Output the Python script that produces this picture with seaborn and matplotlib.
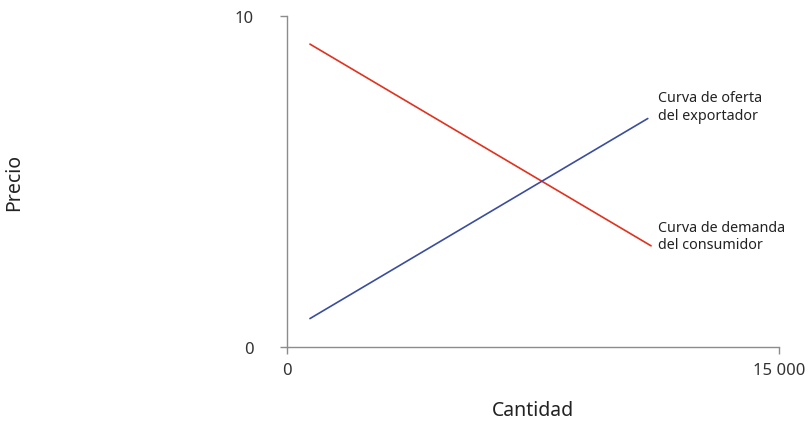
import matplotlib
matplotlib.use("Agg")
import matplotlib.pyplot as plt
import seaborn as sns
import pandas as pd

sns.set_theme(style="white")
plt.rcParams['font.family'] = ['Noto Sans', 'DejaVu Sans']

cantidad_oferta = [700, 11000]
precio_oferta = [0.85, 6.9]
cantidad_demanda = [700, 11100]
precio_demanda = [9.15, 3.05]
x_ticks = [0, 15000]
x_ticklabels = ["0", "15 000"]
y_ticks = [0, 10]
y_ticklabels = ["0", "10"]
label_oferta = "Curva de oferta\ndel exportador"
label_demanda = "Curva de demanda\ndel consumidor"

df_o = pd.DataFrame({"Cantidad": cantidad_oferta, "Precio": precio_oferta})
df_d = pd.DataFrame({"Cantidad": cantidad_demanda, "Precio": precio_demanda})

fig = plt.figure(figsize=(8.1, 4.39), dpi=100)
ax = fig.add_axes([0.3543, 0.208, 0.6074, 0.7533])

sns.lineplot(data=df_d, x="Cantidad", y="Precio", ax=ax, color="#e2311d", linewidth=1.2)
sns.lineplot(data=df_o, x="Cantidad", y="Precio", ax=ax, color="#3a4d9f", linewidth=1.2)

ax.set_xlim(0, 15000)
ax.set_ylim(0, 10)
ax.set_xticks(x_ticks)
ax.set_xticklabels(x_ticklabels)
ax.set_yticks(y_ticks)
ax.set_yticklabels(y_ticklabels)
for s in ["top", "right"]:
    ax.spines[s].set_visible(False)
for s in ["left", "bottom"]:
    ax.spines[s].set_color("#8c8c8c")
    ax.spines[s].set_linewidth(1.0)
ax.tick_params(axis="both", bottom=True, left=True, direction="out", colors="#8c8c8c",
               labelcolor="#333333", length=5, width=1.0, labelsize=12)
ax.tick_params(axis="x", pad=6)
ax.tick_params(axis="y", pad=19)
ax.set_xlabel("Cantidad", fontsize=14, color="#222222", labelpad=16)
ax.set_ylabel("Precio", fontsize=14, color="#222222")
ax.yaxis.set_label_coords(-0.535, 0.5)

ax.text(11300, precio_oferta[1] + 0.37, label_oferta, fontsize=10.3, color="#222222",
        va="center", ha="left", linespacing=1.25)
ax.text(11300, precio_demanda[1] + 0.3, label_demanda, fontsize=10.3, color="#222222",
        va="center", ha="left", linespacing=1.25)

fig.savefig("out.png", dpi=100)
